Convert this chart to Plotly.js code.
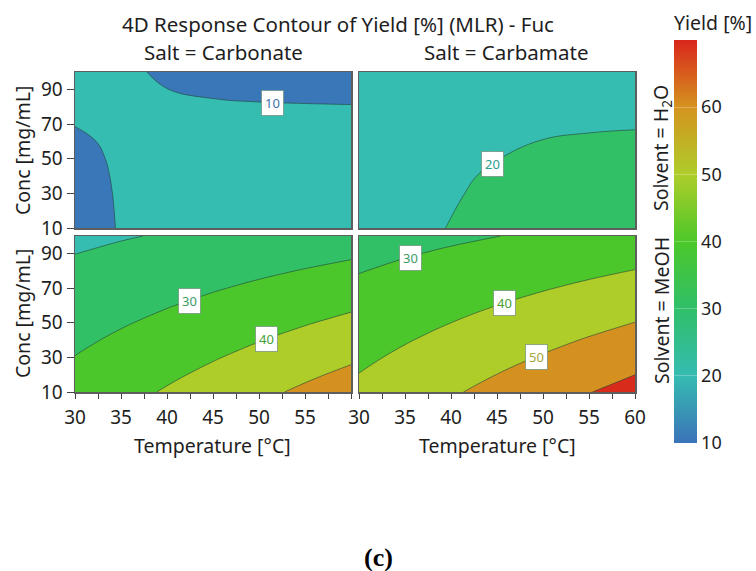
<!DOCTYPE html>
<html>
<head>
<meta charset="utf-8">
<script src="https://cdn.plot.ly/plotly-3.0.1.min.js"></script>
<style>html,body{margin:0;padding:0;background:#fff;}#chart{width:756px;height:571px;}</style>
</head>
<body>
<div id="chart"></div>
<script>
// ---- data ----
const temperature = [30, 35, 40, 45, 50, 55, 60];
const concentration = [10, 20, 30, 40, 50, 60, 70, 80, 90, 100];

// rows = concentration, columns = temperature ; Yield [%]
const zCarbonateH2O = [
  [8.48, 10.21, 11.93, 13.66, 15.38, 17.11, 18.83],
  [8.74, 10.22, 11.69, 13.17, 14.64, 16.12, 17.59],
  [9.00, 10.23, 11.45, 12.68, 13.90, 15.13, 16.35],
  [9.26, 10.24, 11.21, 12.19, 13.16, 14.14, 15.11],
  [9.52, 10.25, 10.97, 11.70, 12.42, 13.15, 13.87],
  [9.78, 10.26, 10.73, 11.21, 11.68, 12.16, 12.63],
  [10.04, 10.27, 10.49, 10.72, 10.94, 11.17, 11.39],
  [10.30, 10.28, 10.25, 10.23, 10.20, 10.18, 10.15],
  [10.56, 10.29, 10.01, 9.74, 9.46, 9.19, 8.91],
  [10.82, 10.30, 9.77, 9.25, 8.72, 8.20, 7.67]
];
const zCarbamateH2O = [
  [13.6, 16.5, 20.48, 24.5, 26.0, 27.0, 27.5],
  [13.8, 16.3, 19.68, 23.68, 25.5, 26.6, 27.2],
  [14.0, 16.3, 19.0, 22.33, 25.0, 26.0, 26.6],
  [14.2, 16.2, 18.3, 21.34, 24.2, 25.3, 25.8],
  [14.0, 15.8, 17.6, 19.82, 22.82, 24.0, 24.5],
  [13.5, 15.0, 16.5, 17.3, 20.3, 21.5, 22.0],
  [13.5, 14.8, 16.0, 17.0, 18.0, 18.4, 19.0],
  [13.3, 14.4, 15.3, 16.0, 16.8, 17.3, 17.8],
  [13.0, 14.0, 14.8, 15.4, 16.0, 16.5, 17.0],
  [12.8, 13.7, 14.4, 15.0, 15.5, 16.0, 16.4]
];
const zCarbonateMeOH = [
  [33.6, 37.2, 40.8, 44.4, 48.0, 51.6, 55.2],
  [31.89, 35.22, 38.56, 41.89, 45.23, 48.57, 51.9],
  [30.18, 33.25, 36.32, 39.39, 42.46, 45.53, 48.6],
  [28.47, 31.27, 34.08, 36.88, 39.69, 42.5, 45.3],
  [26.76, 29.3, 31.84, 34.38, 36.92, 39.46, 42.0],
  [25.04, 27.32, 29.59, 31.87, 34.15, 36.42, 38.7],
  [23.33, 25.34, 27.35, 29.37, 31.38, 33.39, 35.4],
  [21.62, 23.37, 25.11, 26.86, 28.61, 30.35, 32.1],
  [19.91, 21.39, 22.87, 24.36, 25.84, 27.32, 28.8],
  [18.2, 19.42, 20.63, 21.85, 23.07, 24.28, 25.5]
];
const zCarbamateMeOH = [
  [41.9, 45.47, 49.03, 52.6, 56.17, 59.73, 63.3],
  [40.16, 43.46, 46.77, 50.08, 53.39, 56.69, 59.97],
  [38.41, 41.46, 44.51, 47.56, 50.6, 53.65, 56.7],
  [36.67, 39.46, 42.24, 45.03, 47.82, 50.61, 53.4],
  [34.92, 37.45, 39.98, 42.51, 45.04, 47.57, 50.1],
  [33.18, 35.45, 37.72, 39.99, 42.26, 44.53, 46.8],
  [31.43, 33.45, 35.46, 37.47, 39.48, 41.49, 43.5],
  [29.69, 31.44, 33.19, 34.94, 36.7, 38.45, 40.2],
  [27.94, 29.44, 30.93, 32.42, 33.92, 35.41, 36.9],
  [26.2, 27.43, 28.67, 29.9, 31.13, 32.37, 33.6]
];

// tick labels
const tempTicksLeft = [30, 35, 40, 45, 50, 55];
const tempTicksRight = [30, 35, 40, 45, 50, 55, 60];
const concTicks = [10, 30, 50, 70, 90];
const yieldTicks = [10, 20, 30, 40, 50, 60];

// contour level labels: [panel, level, temperature, concentration]
const levelLabels = [
  ['', '10', 51.5, 82.0],
  ['2', '20', 44.5, 46.9],
  ['3', '30', 42.4, 62.5],
  ['3', '40', 50.8, 40.4],
  ['4', '30', 35.6, 87.5],
  ['4', '40', 45.8, 61.2],
  ['4', '50', 49.3, 30.4]
];
const levelTextColors = {'10': '#3d6fae', '20': '#2f9d92', '30': '#3a9c62', '40': '#47a034', '50': '#a3a536'};

// ---- styles ----
const bandColors = ['#3a77b8', '#35bdb1', '#32c067', '#4bc72b', '#aecd29', '#d5911f', '#d92b1b'];
const fillScale = bandColors.map((c, i) => [i / (bandColors.length - 1), c]);
const barScale = [
  [0, '#3b73b9'], [1/6, '#35bcb1'], [2/6, '#30bf69'], [3/6, '#4cc82a'],
  [4/6, '#aecd2a'], [5/6, '#d5931f'], [1, '#d9261c']
];
const FONT = 'Noto Sans, Open Sans, sans-serif';
const TXT = '#1e1e1e';

function contourTrace(z, xa, ya) {
  return {
    type: 'contour', x: temperature, y: concentration, z: z,
    xaxis: xa, yaxis: ya,
    autocontour: false,
    contours: {start: 10, end: 60, size: 10, coloring: 'fill', showlines: true},
    line: {color: 'rgba(35,65,55,0.75)', width: 0.8, smoothing: 1.2},
    colorscale: fillScale, showscale: false, hoverinfo: 'skip'
  };
}

const traces = [
  contourTrace(zCarbonateH2O, 'x', 'y'),
  contourTrace(zCarbamateH2O, 'x2', 'y2'),
  contourTrace(zCarbonateMeOH, 'x3', 'y3'),
  contourTrace(zCarbamateMeOH, 'x4', 'y4'),
  {
    type: 'scatter', mode: 'markers', x: [-100], y: [-100], xaxis: 'x', yaxis: 'y',
    hoverinfo: 'skip', showlegend: false,
    marker: {
      color: [10], cmin: 10, cmax: 70, colorscale: barScale, showscale: true, size: 1,
      colorbar: {
        x: 674 / 756, xanchor: 'left', xpad: 0, ypad: 0,
        y: 1 - 241.5 / 571, yanchor: 'middle',
        lenmode: 'pixels', len: 403, thicknessmode: 'pixels', thickness: 23,
        outlinewidth: 0, tickvals: yieldTicks,
        ticks: 'inside', ticklen: 23, tickcolor: 'rgba(255,255,255,0.25)',
        tickfont: {family: FONT, size: 18, color: TXT}
      }
    }
  }
];

const frame = {showline: true, mirror: true, linecolor: '#5e5e5e', linewidth: 1.5,
  showgrid: false, zeroline: false, fixedrange: true};
const xL = [75 / 756, 351 / 756], xR = [359 / 756, 635 / 756];
const yT = [1 - 228 / 571, 1 - 72 / 571], yB = [1 - 392 / 571, 1 - 236 / 571];
const tickFont = {family: FONT, size: 19, color: TXT};

const xHidden = (dom, anchor) => Object.assign({}, frame, {domain: dom, anchor: anchor, range: [30, 60], showticklabels: false, ticks: ''});
const xShown = (dom, anchor, vals) => Object.assign({}, frame, {domain: dom, anchor: anchor, range: [30, 60],
  tickmode: 'array', tickvals: vals, ticks: 'outside', ticklen: 5, tickwidth: 1, tickcolor: '#444',
  ticklabelstandoff: 3, tickfont: tickFont,
  minor: {tick0: 30, dtick: 2.5, ticks: 'outside', ticklen: 5, tickwidth: 1, tickcolor: '#444', showgrid: false}});
const yShown = (dom, anchor) => Object.assign({}, frame, {domain: dom, anchor: anchor, range: [10, 100],
  tickmode: 'array', tickvals: concTicks, ticks: 'outside', ticklen: 7, tickwidth: 1, tickcolor: '#444', tickfont: tickFont});
const yHidden = (dom, anchor) => Object.assign({}, frame, {domain: dom, anchor: anchor, range: [10, 100], showticklabels: false, ticks: ''});

function pa(text, px, py, size, opts) {
  return Object.assign({text: text, x: px / 756, y: 1 - py / 571, xref: 'paper', yref: 'paper',
    showarrow: false, xanchor: 'center', yanchor: 'middle', font: {family: FONT, size: size, color: TXT}}, opts || {});
}

const annotations = [
  pa('4D Response Contour of Yield [%] (MLR) - Fuc', 337.5, 24, 20.5),
  pa('Salt = Carbonate', 223, 52, 20.5),
  pa('Salt = Carbamate', 507, 52, 20.5),
  pa('Solvent = H<sub>2</sub>O', 661, 148, 19.5, {textangle: -90}),
  pa('Solvent = MeOH', 661, 311, 19.5, {textangle: -90}),
  pa('Conc [mg/mL]', 22, 151, 19.5, {textangle: -90}),
  pa('Conc [mg/mL]', 22, 314, 19.5, {textangle: -90}),
  pa('Temperature [°C]', 212, 445, 19.5),
  pa('Temperature [°C]', 497, 445, 19.5),
  pa('Yield [%]', 672, 23, 19.5, {xanchor: 'left'}),
  pa('<b>(c)</b>', 378, 557, 26, {font: {family: 'Liberation Serif, Times New Roman, serif', size: 26, color: '#000'}})
];
levelLabels.forEach(function (l) {
  annotations.push({
    text: l[1], x: l[2], y: l[3], xref: 'x' + l[0], yref: 'y' + l[0], showarrow: false,
    bgcolor: '#ffffff', bordercolor: 'rgba(110,140,120,0.7)', borderwidth: 1, borderpad: 3,
    font: {family: FONT, size: 13, color: levelTextColors[l[1]]}
  });
});

const layout = {
  width: 756, height: 571,
  margin: {l: 0, r: 0, t: 0, b: 0},
  paper_bgcolor: '#ffffff', plot_bgcolor: '#ffffff',
  showlegend: false, hovermode: false,
  font: {family: FONT, color: TXT},
  xaxis: xHidden(xL, 'y'),
  yaxis: yShown(yT, 'x'),
  xaxis2: xHidden(xR, 'y2'),
  yaxis2: yHidden(yT, 'x2'),
  xaxis3: xShown(xL, 'y3', tempTicksLeft),
  yaxis3: yShown(yB, 'x3'),
  xaxis4: xShown(xR, 'y4', tempTicksRight),
  yaxis4: yHidden(yB, 'x4'),
  annotations: annotations
};

Plotly.newPlot('chart', traces, layout, {staticPlot: true, displayModeBar: false});
</script>
</body>
</html>
